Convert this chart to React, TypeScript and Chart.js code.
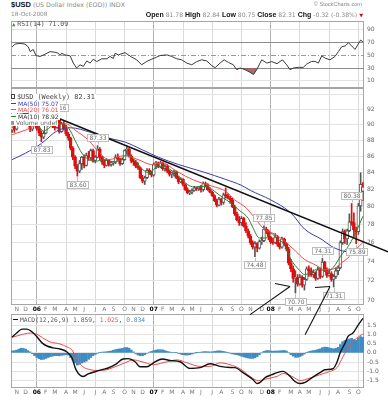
import React, { useEffect, useRef } from 'react';
import { Chart, registerables } from 'chart.js';

Chart.register(...registerables);

const SANS = '"DejaVu Sans", Verdana, sans-serif';
const MONO = '"DejaVu Sans Mono", monospace';
const NARROW = '"Liberation Sans Narrow", "Liberation Sans", Arial, sans-serif';
const ARIAL = '"Liberation Sans", Arial, sans-serif';

// ---------- weekly bars: week 0 = 21-Oct-2005 ... week 156 = 17-Oct-2008 ----------
const opens = [
  89.3, 89.9, 89.4, 90.6, 91.8, 92.0, 91.5, 91.3, 90.9, 89.4,
  90.2, 91.0, 89.5, 88.9, 88.4, 88.9, 90.0, 90.6, 90.3, 89.9,
  89.6, 90.7, 89.1, 90.1, 89.5, 88.8, 88.3, 87.0, 85.9, 84.8,
  84.2, 85.1, 85.9, 84.9, 86.1, 85.8, 86.7, 85.5, 85.9, 86.9,
  85.9, 85.3, 84.9, 85.5, 85.0, 85.2, 85.3, 85.9, 85.7, 85.1,
  85.6, 86.7, 86.9, 86.0, 85.4, 85.3, 84.8, 84.6, 83.4, 83.0,
  83.4, 84.3, 84.0, 83.7, 85.0, 85.2, 84.7, 85.2, 84.5, 84.8,
  84.2, 83.8, 83.9, 84.1, 83.4, 82.9, 83.2, 82.6, 82.0, 81.6,
  81.7, 81.9, 82.2, 82.1, 82.3, 82.0, 82.7, 82.6, 82.0, 81.7,
  81.3, 80.7, 80.2, 80.9, 80.5, 81.4, 81.3, 81.0, 80.8, 80.0,
  79.2, 78.5, 78.2, 78.7, 77.8, 77.3, 76.7, 76.0, 75.5, 75.9,
  75.4, 76.1, 76.2, 77.5, 77.3, 76.6, 76.1, 76.0, 76.6, 75.8,
  75.5, 76.4, 75.9, 75.3, 73.8, 73.2, 72.2, 72.3, 71.6, 72.3,
  71.5, 72.1, 73.2, 73.0, 72.6, 72.8, 72.2, 73.1, 72.4, 73.9,
  73.1, 72.5, 72.7, 72.1, 72.4, 73.0, 73.3, 76.0, 77.2, 76.4,
  77.3, 78.3, 78.2, 77.4, 77.2, 80.1, 81.78,
];
const highs = [
  90.2, 90.1, 90.9, 92.0, 92.6, 92.2, 91.8, 91.6, 91.0, 90.5,
  91.3, 91.1, 89.9, 89.2, 89.1, 90.3, 90.9, 90.9, 90.5, 90.3,
  91.16, 90.8, 90.3, 90.4, 89.9, 89.0, 88.4, 87.2, 86.1, 85.0,
  85.5, 86.0, 86.2, 86.4, 86.6, 86.9, 86.9, 86.1, 87.33, 87.1,
  86.0, 85.6, 85.7, 85.6, 85.4, 85.4, 86.2, 86.3, 85.8, 85.8,
  86.8, 87.2, 87.0, 86.2, 85.7, 85.5, 85.2, 84.7, 83.7, 83.6,
  84.5, 84.5, 84.2, 85.2, 85.4, 85.3, 85.4, 85.3, 85.0, 85.0,
  84.3, 84.1, 84.3, 84.2, 83.6, 83.4, 83.3, 82.7, 82.2, 81.9,
  82.1, 82.4, 82.3, 82.4, 82.5, 82.9, 82.9, 82.7, 82.2, 81.8,
  81.4, 80.9, 81.1, 81.0, 81.6, 82.2, 81.5, 81.2, 81.0, 80.2,
  79.4, 78.9, 78.9, 78.8, 78.2, 77.5, 76.9, 76.2, 76.1, 76.0,
  76.3, 76.6, 77.85, 77.7, 77.4, 76.7, 76.5, 77.0, 76.8, 76.0,
  76.6, 76.5, 76.0, 75.5, 74.2, 73.5, 73.0, 72.6, 72.6, 72.5,
  72.3, 73.4, 73.5, 73.3, 73.1, 72.9, 73.4, 73.3, 74.31, 74.0,
  73.3, 73.2, 72.9, 72.6, 73.3, 73.5, 76.2, 77.5, 77.4, 77.5,
  79.2, 80.38, 79.3, 77.7, 80.4, 84.0, 82.84,
];
const lows = [
  89.0, 89.0, 89.3, 90.5, 91.5, 91.2, 90.9, 90.5, 89.1, 89.2,
  90.0, 89.3, 88.6, 87.83, 88.2, 88.8, 89.8, 89.9, 89.6, 89.3,
  89.5, 88.9, 89.0, 89.3, 88.6, 88.0, 86.8, 85.6, 84.5, 83.6,
  84.0, 84.4, 84.6, 84.8, 85.5, 85.6, 85.3, 85.2, 85.8, 85.6,
  85.0, 84.6, 84.8, 84.8, 84.8, 84.9, 85.1, 85.5, 84.9, 85.0,
  85.5, 86.3, 85.9, 85.2, 84.9, 84.6, 84.4, 83.3, 82.8, 82.6,
  83.3, 83.8, 83.5, 83.6, 84.5, 84.6, 84.6, 84.3, 84.2, 84.0,
  83.6, 83.4, 83.6, 83.3, 82.7, 82.8, 82.4, 81.9, 81.5, 81.4,
  81.5, 81.8, 81.9, 81.9, 81.7, 81.8, 82.3, 81.9, 81.6, 81.2,
  80.6, 80.0, 80.1, 80.2, 80.3, 81.0, 80.9, 80.4, 79.9, 79.0,
  78.4, 77.9, 77.9, 77.7, 77.1, 76.5, 75.8, 75.3, 74.48, 75.0,
  75.3, 75.8, 76.1, 77.0, 76.3, 75.9, 75.8, 75.9, 75.6, 75.3,
  75.4, 75.7, 75.1, 73.6, 72.9, 71.8, 70.7, 71.4, 71.5, 71.3,
  71.0, 72.0, 72.4, 72.4, 72.3, 72.0, 72.1, 72.2, 72.3, 72.9,
  72.3, 72.4, 71.9, 71.31, 72.2, 72.6, 73.2, 75.8, 75.9, 75.8,
  77.2, 77.9, 76.6, 75.89, 76.9, 79.5, 80.75,
];
const closes = [
  89.9, 89.4, 90.6, 91.8, 92.0, 91.5, 91.3, 90.9, 89.4, 90.2,
  91.0, 89.5, 88.9, 88.4, 88.9, 90.0, 90.6, 90.3, 89.9, 89.6,
  90.7, 89.1, 90.1, 89.5, 88.8, 88.3, 87.0, 85.9, 84.8, 84.2,
  85.1, 85.9, 84.9, 86.1, 85.8, 86.7, 85.5, 85.9, 86.9, 85.9,
  85.3, 84.9, 85.5, 85.0, 85.2, 85.3, 85.9, 85.7, 85.1, 85.6,
  86.7, 86.9, 86.0, 85.4, 85.3, 84.8, 84.6, 83.4, 83.0, 83.4,
  84.3, 84.0, 83.7, 85.0, 85.2, 84.7, 85.2, 84.5, 84.8, 84.2,
  83.8, 83.9, 84.1, 83.4, 82.9, 83.2, 82.6, 82.0, 81.6, 81.7,
  81.9, 82.2, 82.1, 82.3, 82.0, 82.7, 82.6, 82.0, 81.7, 81.3,
  80.7, 80.2, 80.9, 80.5, 81.4, 81.3, 81.0, 80.8, 80.0, 79.2,
  78.5, 78.2, 78.7, 77.8, 77.3, 76.7, 76.0, 75.5, 75.9, 75.4,
  76.1, 76.2, 77.5, 77.3, 76.6, 76.1, 76.0, 76.6, 75.8, 75.5,
  76.4, 75.9, 75.3, 73.8, 73.2, 72.2, 72.3, 71.6, 72.3, 71.5,
  72.1, 73.2, 73.0, 72.6, 72.8, 72.2, 73.1, 72.4, 73.9, 73.1,
  72.5, 72.7, 72.1, 72.4, 73.0, 73.3, 76.0, 77.2, 76.4, 77.3,
  78.3, 78.2, 77.4, 77.2, 80.1, 82.63, 82.31,
];

// x axis: month labels placed at the first week of each month
const monthTickWeeks = [2, 6, 11, 15, 19, 24, 28, 32, 37, 41, 45, 50, 54, 58, 63, 67, 71, 76, 80, 84, 89, 93, 98, 102, 106, 111, 115, 119, 124, 128, 132, 137, 141, 145, 150, 154];
const monthTickLabels = ['N', 'D', '06', 'F', 'M', 'A', 'M', 'J', 'J', 'A', 'S', 'O', 'N', 'D', '07', 'F', 'M', 'A', 'M', 'J', 'J', 'A', 'S', 'O', 'N', 'D', '08', 'F', 'M', 'A', 'M', 'J', 'J', 'A', 'S', 'O'];
const quarterGridWeeks = [24, 37, 50, 76, 89, 102, 128, 141, 154];
const yearGridWeeks = [11, 63, 115];

const priceTicks = [70, 72, 74, 76, 78, 80, 82, 84, 86, 88, 90, 92, 94];
const priceTickLabels = ['70', '72', '74', '76', '78', '80', '82', '84', '86', '88', '90', '92', ''];

// moving averages (week, value)
const ma50Weeks = [0, 6, 13, 20, 26, 35, 44, 50, 58, 65, 74, 85, 95, 102, 106, 115, 124, 130, 138, 142, 147, 150, 153, 156];
const ma50Values = [85.6, 86.4, 87.6, 89.2, 89.6, 89.0, 88.2, 87.8, 86.8, 85.9, 85.0, 84.1, 83.2, 82.5, 81.9, 80.8, 79.3, 77.5, 76.3, 75.6, 75.1, 75.0, 75.1, 75.07];
const ma20Weeks = [0, 6, 12, 20, 24, 28, 34, 39, 43, 50, 56, 62, 67, 72, 77, 83, 89, 95, 99, 104, 108, 112, 117, 121, 126, 130, 135, 139, 143, 147, 150, 153, 156];
const ma20Values = [88.7, 89.3, 90.0, 90.1, 90.1, 89.3, 88.0, 86.4, 85.6, 86.1, 85.6, 85.0, 85.2, 84.4, 83.6, 82.9, 82.4, 81.8, 80.8, 79.9, 78.7, 77.5, 76.9, 76.2, 75.1, 74.2, 73.6, 73.1, 73.2, 73.9, 74.5, 75.3, 76.01];
const ma10Weeks = [0, 5, 10, 14, 20, 25, 28, 31, 34, 37, 41, 44, 48, 51, 55, 58, 61, 65, 69, 74, 78, 81, 86, 90, 94, 97, 101, 105, 107, 110, 113, 115, 118, 121, 124, 128, 130, 133, 136, 140, 143, 146, 150, 153, 156];
const ma10Values = [89.6, 91.3, 90.6, 89.2, 90.2, 89.6, 88.0, 86.4, 85.6, 85.4, 85.6, 85.3, 85.5, 86.2, 85.4, 84.4, 84.0, 84.8, 84.6, 83.6, 82.6, 82.3, 82.4, 81.8, 81.0, 80.5, 79.6, 78.7, 77.7, 76.5, 76.5, 77.0, 76.4, 75.8, 74.2, 73.0, 72.6, 72.8, 73.2, 72.9, 73.4, 74.5, 75.8, 77.2, 78.92];

// drawn trendline and annotations (week, value)
const trendWeeks = [20, 167.2];
const trendValues = [90.9, 75.0];
const priceLabelWeeks = [20, 13, 29, 38, 108, 112, 126, 138, 143, 151, 153];
const priceLabelValues = [91.16, 87.83, 83.6, 87.33, 74.48, 77.85, 70.7, 74.31, 71.31, 80.38, 75.89];
const priceLabelSides = ['above', 'below', 'below', 'above', 'below', 'above', 'below', 'above', 'below', 'above', 'below'];
const arrowFromWeeks = [105.8, 116.9, 130.3, 134.7];
const arrowFromValues = [68.55, 71.68, 66.6, 71.27];
const arrowToWeeks = [123.6, 123.6, 141.4, 141.4];
const arrowToValues = [71.37, 71.37, 71.37, 71.37];

// RSI(14)
const rsiWeeks = [0, 1.3, 3.5, 5.7, 7.2, 8, 9.4, 10.6, 12.4, 14.6, 16.9, 19.1, 20.6, 21.3, 22, 23.5, 25.8, 27.2, 28.7, 30.2, 31.7, 33.2, 34.7, 36.1, 37.6, 39.9, 42.1, 43.5, 45, 45.8, 47.2, 50.2, 51.7, 53.2, 55.4, 57.6, 59.9, 62.1, 64.3, 65.8, 68.8, 71, 73.2, 75.4, 77.7, 79.9, 82.1, 84.3, 86.6, 88.8, 90.3, 92.5, 94.3, 96.2, 98.4, 99.9, 101.4, 103.6, 105.8, 107.3, 108.8, 111, 113.3, 115.5, 117.8, 120.2, 122.1, 123.6, 125.1, 127.3, 129.5, 131, 133.2, 134.7, 136.2, 137.7, 139.2, 141.4, 143.6, 145.1, 146.6, 148.1, 149.6, 152.5, 155, 156];
const rsiValues = [63, 67.4, 68.5, 67.4, 63, 55.6, 59, 49.5, 48, 51.5, 55.6, 54.6, 53, 49.5, 53, 50.5, 49, 37.7, 30, 35, 32.6, 41, 37.7, 43.8, 40, 44.4, 44.4, 48, 45, 53, 50.5, 54, 50.5, 47, 42.8, 35, 40.3, 43.8, 47, 49.5, 50.5, 48, 44.4, 42.8, 37.7, 35, 40, 42.8, 41, 33.6, 30.5, 37.7, 42.8, 38.7, 35, 27.4, 30, 27.4, 23.3, 19.7, 27.4, 42.8, 37.7, 40, 36.7, 42.8, 35, 27.4, 30, 31, 31, 36, 40.3, 40.3, 37.7, 49, 45.4, 42.8, 48, 55.6, 63.3, 64.4, 69.5, 59, 73.6, 71.09];
const rsiTicks = [10, 30, 50, 70, 90];
const rsiLevels = [70, 50, 30];

// MACD(12,26,9)
const macdWeeks = [0, 2, 4.4, 6.6, 8.9, 11.1, 13.3, 15.5, 18.2, 21.3, 24.4, 26.6, 28.4, 31.5, 33.8, 36.9, 40, 42.7, 45.8, 49.3, 51.6, 54.7, 56.9, 60, 62.7, 66.7, 70.2, 74.7, 79.1, 83.6, 88, 92.5, 96.9, 99.2, 102.7, 107.2, 108.9, 110.3, 112.5, 115.6, 117.8, 120.5, 123.6, 125.8, 128.1, 130.3, 133.4, 136.9, 139.2, 142.7, 144.5, 145.9, 148.1, 149.4, 151.6, 153.9, 156];
const macdValues = [0.84, 1.07, 1.28, 1.28, 1.13, 0.86, 0.54, 0.37, 0.27, 0.21, 0.05, -0.27, -0.91, -1.28, -1.14, -1.02, -0.91, -0.82, -0.64, -0.33, -0.31, -0.48, -0.75, -0.75, -0.55, -0.33, -0.41, -0.48, -0.84, -0.8, -0.59, -0.73, -0.79, -0.8, -1.07, -1.45, -1.66, -1.6, -1.34, -1.18, -1.07, -1.0, -1.27, -1.55, -1.66, -1.6, -1.34, -1.07, -0.91, -0.86, -0.5, 0.0, 0.53, 0.89, 1.07, 1.5, 1.859];
const signalWeeks = [0, 3.5, 8, 11.1, 13.7, 16.9, 21.3, 24.4, 26.6, 28.9, 31.5, 34.7, 38.2, 42.2, 45.8, 50.2, 53.8, 57.8, 62.7, 67.1, 73.4, 77.8, 83.6, 88, 92.5, 96.9, 101.4, 105.8, 109.4, 113.4, 117.8, 120.5, 124.5, 128.1, 131.6, 136.9, 141.4, 144.5, 147.2, 150.2, 153.3, 156];
const signalValues = [0.84, 0.96, 1.07, 1.0, 0.8, 0.59, 0.48, 0.32, 0.16, -0.38, -0.75, -0.91, -0.96, -0.91, -0.75, -0.54, -0.38, -0.48, -0.64, -0.54, -0.38, -0.54, -0.73, -0.73, -0.54, -0.64, -0.86, -1.27, -1.5, -1.4, -1.27, -1.12, -1.27, -1.5, -1.4, -1.18, -1.0, -0.8, -0.2, 0.43, 0.8, 1.025];
const histValues = [
  0.10, 0.12, 0.15, 0.20, 0.25, 0.24, 0.20, 0.12, 0.05, -0.05,
  -0.15, -0.25, -0.32, -0.36, -0.35, -0.30, -0.25, -0.20, -0.18, -0.15,
  -0.15, -0.16, -0.14, -0.12, -0.10, -0.12, -0.25, -0.40, -0.55, -0.66,
  -0.62, -0.55, -0.50, -0.45, -0.35, -0.25, -0.15, -0.08, -0.02, 0.02,
  0.04, 0.05, 0.06, 0.08, 0.10, 0.14, 0.18, 0.20, 0.22, 0.24,
  0.28, 0.29, 0.25, 0.15, 0.05, -0.05, -0.12, -0.15, -0.15, -0.10,
  -0.03, 0.04, 0.08, 0.12, 0.15, 0.17, 0.17, 0.16, 0.12, 0.08,
  0.05, 0.03, 0.03, 0.02, -0.03, -0.07, -0.10, -0.12, -0.12, -0.10,
  -0.06, -0.02, 0.01, 0.03, 0.04, 0.06, 0.07, 0.06, 0.05, 0.06,
  0.08, 0.10, 0.11, 0.10, 0.08, 0.05, 0.02, -0.02, -0.06, -0.08,
  -0.10, -0.14, -0.18, -0.22, -0.25, -0.28, -0.30, -0.30, -0.27, -0.20,
  -0.10, 0.00, 0.08, 0.12, 0.12, 0.10, 0.09, 0.10, 0.10, 0.11,
  0.12, 0.13, 0.10, 0.00, -0.10, -0.18, -0.24, -0.24, -0.20, -0.14,
  -0.06, 0.02, 0.07, 0.10, 0.12, 0.14, 0.18, 0.22, 0.28, 0.31,
  0.30, 0.27, 0.24, 0.22, 0.24, 0.30, 0.45, 0.60, 0.67, 0.72,
  0.75, 0.78, 0.72, 0.68, 0.80, 0.88, 0.834,
];
const macdTicks = [-1.5, -1, -0.5, 0, 0.5, 1, 1.5];

// ---------- styling ----------
const W = 388;
const AXIS_W = 24;
const PLOT_LEFT = 11;
const CANDLE_RED = '#dc1010';
const CANDLE_GRAY = '#555555';
const MA50_COLOR = '#3b3ba8';
const MA20_COLOR = '#f04a4a';
const MA10_COLOR = '#2f7d2f';
const HIST_COLOR = '#3f8cc4';
const TICK_COLOR = '#666';
const GRID_COLOR = '#e3e3e3';

const pts = (xs: number[], ys: number[]) => xs.map((x, i) => ({ x, y: ys[i] }));

function xAxis(showLabels: boolean) {
  return {
    type: 'linear',
    min: -0.5,
    max: closes.length - 0.5,
    offset: false,
    afterBuildTicks: (s: any) => {
      s.ticks = monthTickWeeks.map((v) => ({ value: v }));
    },
    afterFit: (s: any) => {
      s.height = showLabels ? 10 : 0;
      s.paddingLeft = 0;
      s.paddingRight = 0;
    },
    ticks: {
      display: showLabels,
      autoSkip: false,
      maxRotation: 0,
      minRotation: 0,
      padding: 1,
      callback: (_v: any, i: number) => monthTickLabels[i],
      font: (ctx: any) => ({
        family: SANS,
        size: 6,
        weight: /\d/.test(monthTickLabels[ctx.index] || '') ? 'bold' : 'normal',
      }),
      color: (ctx: any) => (/\d/.test(monthTickLabels[ctx.index] || '') ? '#000' : '#777'),
    },
    grid: {
      offset: false,
      drawTicks: false,
      lineWidth: 1,
      color: (ctx: any) => {
        const v = ctx.tick ? ctx.tick.value : null;
        if (yearGridWeeks.includes(v)) return '#b2b2b2';
        if (quarterGridWeeks.includes(v)) return '#dadada';
        return 'rgba(0,0,0,0)';
      },
    },
    border: { display: false },
  };
}

function yAxisBase(extra: any) {
  return {
    position: 'right',
    afterFit: (s: any) => {
      s.width = AXIS_W;
      s.paddingTop = 0;
      s.paddingBottom = 0;
    },
    grid: { drawTicks: false, color: GRID_COLOR },
    border: { display: false },
    ...extra,
  };
}

const panelBorder = {
  id: 'panelBorder',
  beforeDatasetsDraw(chart: any) {
    const { ctx, chartArea: a } = chart;
    ctx.save();
    ctx.strokeStyle = '#a6a6a6';
    ctx.lineWidth = 1;
    ctx.strokeRect(Math.round(a.left) + 0.5, Math.round(a.top) + 0.5, Math.round(a.right - a.left) - 1, Math.round(a.bottom - a.top) - 1);
    ctx.restore();
  },
};

const rsiLevelPlugin = {
  id: 'rsiLevels',
  beforeDatasetsDraw(chart: any) {
    const { ctx, chartArea: a, scales } = chart;
    ctx.save();
    ctx.lineWidth = 1;
    rsiLevels.forEach((lv) => {
      const py = Math.round(scales.y.getPixelForValue(lv)) + 0.5;
      ctx.beginPath();
      ctx.setLineDash(lv === 50 ? [5, 2, 1, 2] : []);
      ctx.strokeStyle = lv === 50 ? '#9a9a9a' : '#8c8c8c';
      ctx.moveTo(a.left, py);
      ctx.lineTo(a.right, py);
      ctx.stroke();
    });
    ctx.restore();
  },
};

const mainOverlay = {
  id: 'mainOverlay',
  afterDatasetsDraw(chart: any) {
    const { ctx, scales } = chart;
    const x = scales.x;
    const y = scales.y;
    ctx.save();
    // trendline
    ctx.strokeStyle = '#111';
    ctx.lineWidth = 1.6;
    ctx.beginPath();
    ctx.moveTo(x.getPixelForValue(trendWeeks[0]), y.getPixelForValue(trendValues[0]));
    ctx.lineTo(x.getPixelForValue(trendWeeks[1]), y.getPixelForValue(trendValues[1]));
    ctx.stroke();
    // price labels
    ctx.font = `6px ${SANS}`;
    ctx.textAlign = 'center';
    ctx.textBaseline = 'middle';
    priceLabelWeeks.forEach((w, i) => {
      const v = priceLabelValues[i];
      const txt = v.toFixed(2);
      const px = x.getPixelForValue(w);
      const py = y.getPixelForValue(v);
      const above = priceLabelSides[i] === 'above';
      const tw = ctx.measureText(txt).width;
      const bw = Math.round(tw + 4);
      const bh = 7;
      const cy = above ? py - 8 : py + 8;
      const bx = Math.round(px - bw / 2) + 0.5;
      const by = Math.round(cy - bh / 2) + 0.5;
      ctx.strokeStyle = '#bdbdbd';
      ctx.lineWidth = 1;
      ctx.beginPath();
      ctx.moveTo(Math.round(px) + 0.5, above ? by + bh : by);
      ctx.lineTo(Math.round(px) + 0.5, above ? py - 1 : py + 1);
      ctx.stroke();
      ctx.fillStyle = '#fff';
      ctx.fillRect(bx, by, bw, bh);
      ctx.strokeRect(bx, by, bw, bh);
      ctx.fillStyle = '#6a6a6a';
      ctx.fillText(txt, bx + bw / 2, by + bh / 2 + 0.5);
    });
    // hand-drawn arrows
    ctx.strokeStyle = '#111';
    ctx.lineWidth = 1.1;
    arrowFromWeeks.forEach((w, i) => {
      ctx.beginPath();
      ctx.moveTo(x.getPixelForValue(w), y.getPixelForValue(arrowFromValues[i]));
      ctx.lineTo(x.getPixelForValue(arrowToWeeks[i]), y.getPixelForValue(arrowToValues[i]));
      ctx.stroke();
    });
    ctx.restore();
  },
};

function rsiConfig(): any {
  return {
    type: 'line',
    data: {
      datasets: [
        {
          data: pts(rsiWeeks, rsiValues),
          borderColor: '#3a3a3a',
          borderWidth: 1,
          pointRadius: 0,
          fill: { target: { value: 30 }, above: 'rgba(0,0,0,0)', below: 'rgba(158,92,92,0.9)' },
        },
      ],
    },
    options: {
      animation: false,
      responsive: false,
      devicePixelRatio: 1,
      events: [],
      layout: { padding: { left: PLOT_LEFT, right: 0, top: 8, bottom: 5 } },
      plugins: { legend: { display: false }, tooltip: { enabled: false } },
      scales: {
        x: xAxis(false),
        y: yAxisBase({
          type: 'linear',
          min: -1.3,
          max: 103.5,
          afterBuildTicks: (s: any) => {
            s.ticks = rsiTicks.map((v) => ({ value: v }));
          },
          ticks: { padding: 3, color: TICK_COLOR, font: { family: SANS, size: 6 }, callback: (v: any) => String(v) },
          grid: {
            drawTicks: false,
            color: (ctx: any) => (ctx.tick && (ctx.tick.value === 10 || ctx.tick.value === 90) ? GRID_COLOR : 'rgba(0,0,0,0)'),
          },
        }),
      },
    },
    plugins: [panelBorder, rsiLevelPlugin],
  };
}

function mainConfig(): any {
  const downs = closes.map((c, i) => c < (i > 0 ? closes[i - 1] : opens[i]));
  const colors = downs.map((d) => (d ? CANDLE_RED : CANDLE_GRAY));
  const fills = closes.map((c, i) => (c < opens[i] ? colors[i] : '#ffffff'));
  return {
    type: 'bar',
    data: {
      datasets: [
        {
          type: 'line',
          data: pts(ma10Weeks, ma10Values),
          borderColor: MA10_COLOR,
          borderWidth: 1,
          pointRadius: 0,
          cubicInterpolationMode: 'monotone',
          order: 1,
        },
        {
          type: 'line',
          data: pts(ma20Weeks, ma20Values),
          borderColor: MA20_COLOR,
          borderWidth: 1,
          pointRadius: 0,
          cubicInterpolationMode: 'monotone',
          order: 2,
        },
        {
          type: 'line',
          data: pts(ma50Weeks, ma50Values),
          borderColor: MA50_COLOR,
          borderWidth: 1,
          pointRadius: 0,
          cubicInterpolationMode: 'monotone',
          order: 3,
        },
        {
          type: 'bar',
          data: opens.map((o, i) => ({ x: i, y: [Math.min(o, closes[i]), Math.max(o, closes[i])] })),
          backgroundColor: fills,
          borderColor: colors,
          borderWidth: 1,
          borderSkipped: false,
          barThickness: 3,
          minBarLength: 1,
          grouped: false,
          order: 5,
        },
        {
          type: 'bar',
          data: highs.map((h, i) => ({ x: i, y: [lows[i], h] })),
          backgroundColor: colors,
          borderWidth: 0,
          barThickness: 1,
          grouped: false,
          order: 6,
        },
      ],
    },
    options: {
      animation: false,
      responsive: false,
      devicePixelRatio: 1,
      events: [],
      layout: { padding: { left: PLOT_LEFT, right: 0, top: 8, bottom: 27 } },
      plugins: { legend: { display: false }, tooltip: { enabled: false } },
      scales: {
        x: xAxis(true),
        y: yAxisBase({
          type: 'logarithmic',
          min: 69.5,
          max: 94.85,
          afterBuildTicks: (s: any) => {
            s.ticks = priceTicks.map((v) => ({ value: v }));
          },
          ticks: {
            padding: 3,
            color: TICK_COLOR,
            font: { family: SANS, size: 6 },
            callback: (v: any) => priceTickLabels[priceTicks.indexOf(Number(v))] ?? '',
          },
        }),
      },
    },
    plugins: [panelBorder, mainOverlay],
  };
}

function macdConfig(): any {
  return {
    type: 'bar',
    data: {
      datasets: [
        {
          type: 'line',
          data: pts(macdWeeks, macdValues),
          borderColor: '#111',
          borderWidth: 1.4,
          pointRadius: 0,
          cubicInterpolationMode: 'monotone',
          order: 1,
        },
        {
          type: 'line',
          data: pts(signalWeeks, signalValues),
          borderColor: MA20_COLOR,
          borderWidth: 1,
          pointRadius: 0,
          cubicInterpolationMode: 'monotone',
          order: 2,
        },
        {
          type: 'bar',
          data: histValues.map((v, i) => ({ x: i, y: v })),
          backgroundColor: HIST_COLOR,
          borderWidth: 0,
          barThickness: 2,
          grouped: false,
          order: 5,
        },
      ],
    },
    options: {
      animation: false,
      responsive: false,
      devicePixelRatio: 1,
      events: [],
      layout: { padding: { left: PLOT_LEFT, right: 0, top: 8, bottom: 2 } },
      plugins: { legend: { display: false }, tooltip: { enabled: false } },
      scales: {
        x: xAxis(true),
        y: yAxisBase({
          type: 'linear',
          min: -1.9,
          max: 2.1,
          afterBuildTicks: (s: any) => {
            s.ticks = macdTicks.map((v) => ({ value: v }));
          },
          ticks: { padding: 3, color: TICK_COLOR, font: { family: SANS, size: 6 }, callback: (v: any) => Number(v).toFixed(1) },
        }),
      },
    },
    plugins: [panelBorder],
  };
}

const textBox = (left: number | null, top: number, font: string, size: number, color: string, extra: any = {}) => ({
  position: 'absolute' as const,
  ...(left === null ? {} : { left }),
  top,
  whiteSpace: 'nowrap' as const,
  fontFamily: font,
  fontSize: size,
  lineHeight: '7px',
  color,
  zIndex: 3,
  ...extra,
});

export default function App() {
  const rsiRef = useRef<HTMLCanvasElement>(null);
  const mainRef = useRef<HTMLCanvasElement>(null);
  const macdRef = useRef<HTMLCanvasElement>(null);

  useEffect(() => {
    const charts = [
      new Chart(rsiRef.current as HTMLCanvasElement, rsiConfig()),
      new Chart(macdRef.current as HTMLCanvasElement, macdConfig()),
      new Chart(mainRef.current as HTMLCanvasElement, mainConfig()),
    ];
    return () => charts.forEach((c) => c.destroy());
  }, []);

  const lineIcon = (color: string) => (
    <span style={{ display: 'inline-block', width: 5, height: 1, background: color, verticalAlign: 2, marginRight: 2, marginLeft: 1 }} />
  );
  const legendRow = (top: number, font: string, size: number, color: string, children: any) => (
    <div style={textBox(10, top, font, size, color, { background: '#fff', lineHeight: '6px', paddingRight: 1 })}>{children}</div>
  );
  const bold = { fontFamily: NARROW, fontSize: 7, color: '#111', fontWeight: 'bold' as const };

  return (
    <div style={{ position: 'absolute', left: 0, top: 0, width: W, height: 400, background: '#fff', overflow: 'hidden', fontFamily: SANS, fontSize: 6 }}>
      <canvas ref={rsiRef} width={W} height={80} style={{ position: 'absolute', left: 0, top: 13, width: W, height: 80, zIndex: 1 }} />
      <canvas ref={macdRef} width={W} height={94} style={{ position: 'absolute', left: 0, top: 306, width: W, height: 94, zIndex: 1 }} />
      <canvas ref={mainRef} width={W} height={262} style={{ position: 'absolute', left: 0, top: 80, width: W, height: 262, zIndex: 2 }} />

      {/* header */}
      <div style={textBox(11, 1, SANS, 6.3, '#8a8a8a', { lineHeight: '8px' })}>
        <span style={{ fontFamily: NARROW, fontWeight: 'bold', fontSize: 7.5, color: '#111' }}>$USD</span> (US Dollar Index (EOD)) INDX
      </div>
      <div style={textBox(null, 1, ARIAL, 5.6, '#888', { right: 26 })}>© StockCharts.com</div>
      <div style={textBox(11, 11, SANS, 5.8, '#8a8a8a')}>18-Oct-2008</div>
      <div style={textBox(null, 11, SANS, 6.1, '#8a8a8a', { right: 25 })}>
        <span style={bold}>Open</span> 81.78 <span style={bold}>High</span> 82.84 <span style={bold}>Low</span> 80.75{' '}
        <span style={bold}>Close</span> 82.31 <span style={bold}>Chg</span> -0.32 (-0.38%){' '}
        <span style={{ color: '#d01010', fontSize: 5 }}>▼</span>
      </div>

      {/* RSI legend */}
      <div style={textBox(12, 21, MONO, 6.5, '#555')}>
        <span style={{ color: '#3a8a3a', fontSize: 5.5, marginRight: 2 }}>▲</span>RSI(14) 71.09
      </div>

      {/* price legend */}
      {legendRow(94, MONO, 6.8, '#444', (
        <>
          <span style={{ display: 'inline-block', width: 2, height: 3, border: '1px solid #444', background: '#fff', verticalAlign: 0, marginLeft: 1, marginRight: 2 }} />
          $USD (Weekly) 82.31
        </>
      ))}
      {legendRow(100.5, SANS, 6, MA50_COLOR, (<>{lineIcon(MA50_COLOR)}MA(50) 75.07</>))}
      {legendRow(107, SANS, 6, MA20_COLOR, (<>{lineIcon(MA20_COLOR)}MA(20) 76.01</>))}
      {legendRow(113.5, SANS, 6, '#333', (<>{lineIcon(MA10_COLOR)}MA(10) 78.92</>))}
      {legendRow(120, SANS, 6, '#666', (
        <>
          <span style={{ display: 'inline-block', width: 3, height: 4, background: '#999', verticalAlign: 0, marginLeft: 1, marginRight: 2 }} />
          Volume undef
        </>
      ))}

      {/* MACD legend */}
      <div style={textBox(12, 316, MONO, 6.3, '#555')}>
        {lineIcon('#111')}MACD(12,26,9) 1.859, <span style={{ color: '#f04a4a' }}>1.025</span>, <span style={{ color: '#4a8cc0' }}>0.834</span>
      </div>
    </div>
  );
}
